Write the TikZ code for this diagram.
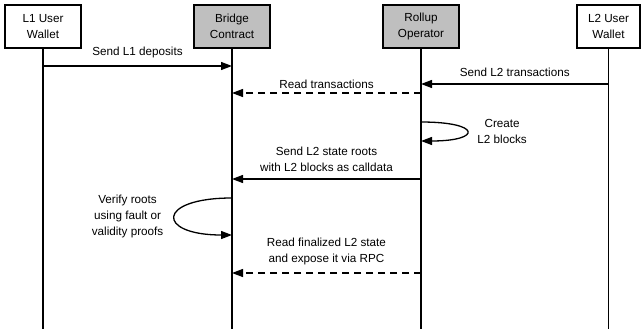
\documentclass[tikz,border=0pt]{standalone}
\usepackage{fontspec}
\setmainfont{Liberation Sans}
\usetikzlibrary{positioning,arrows.meta}
\tikzset{
  actor/.style={draw,line width=1.5pt,fill=white,minimum width=76pt,minimum height=43pt,
    inner sep=1pt,align=center,font=\fontsize{11.7}{16}\selectfont},
  contract/.style={actor,fill=black!25},
  lifeline/.style={draw,line width=1.3pt},
  msg/.style={draw,->,>={Triangle[length=11pt,width=8pt]},line width=1.3pt},
  reply/.style={msg,dash pattern=on 7pt off 5pt},
  msglabel/.style={align=center,inner sep=0pt,font=\fontsize{11.7}{16}\selectfont},
}

\begin{document}
\begin{tikzpicture}[x=1pt,y=-1pt,node distance=189pt]
\useasboundingbox (0,0) rectangle (642,329);

% participants
\node[actor] (l1) at (43,26.5) {L1 User\\Wallet};
\node[contract,right of=l1] (bridge) {Bridge\\Contract};
\node[contract,right of=bridge] (rollup) {Rollup\\Operator};
\node[actor,right of=rollup,minimum width=63pt,xshift=-1.5pt] (l2) {L2 User\\Wallet};

% lifelines
\foreach \who in {l1,bridge,rollup,l2} {
  \coordinate (\who-end) at (\who.south |- 0,329);
  \path[lifeline] (\who.south) -- (\who-end);
}

% points on the lifelines
\coordinate (dep-from) at (l1 |- 0,66);
\coordinate (dep-to) at (bridge |- 0,66);
\coordinate (tx-from) at (l2 |- 0,84);
\coordinate (tx-to) at (rollup |- 0,84);
\coordinate (read-from) at (rollup |- 0,93);
\coordinate (read-to) at (bridge |- 0,93);
\coordinate (blk-from) at (rollup |- 0,122);
\coordinate (blk-to) at (rollup |- 0,141);
\coordinate (root-from) at (rollup |- 0,179);
\coordinate (root-to) at (bridge |- 0,179);
\coordinate (ver-from) at (bridge |- 0,198);
\coordinate (ver-to) at (bridge |- 0,235);
\coordinate (fin-from) at (rollup |- 0,273);
\coordinate (fin-to) at (bridge |- 0,273);

% messages
\path[msg] (dep-from) -- node[msglabel,above=7pt] {Send L1 deposits} (dep-to);
\path[msg] (tx-from) -- node[msglabel,above=7pt] {Send L2 transactions} (tx-to);
\path[reply] (read-from) -- node[msglabel,above=4pt] {Read transactions} (read-to);
\path[msg] (blk-from) .. controls +(61,0) and +(61,0) .. node[msglabel,right=10pt] {Create\\L2 blocks} (blk-to);
\path[msg] (root-from) -- node[msglabel,above=7pt] {Send L2 state roots\\with L2 blocks as calldata} (root-to);
\path[msg] (ver-from) .. controls +(-76,0) and +(-76,0) .. node[msglabel,left=11pt] {Verify roots\\using fault or\\validity proofs} (ver-to);
\path[reply] (fin-from) -- node[msglabel,above=7pt] {Read finalized L2 state\\and expose it via RPC} (fin-to);

\end{tikzpicture}
\end{document}
